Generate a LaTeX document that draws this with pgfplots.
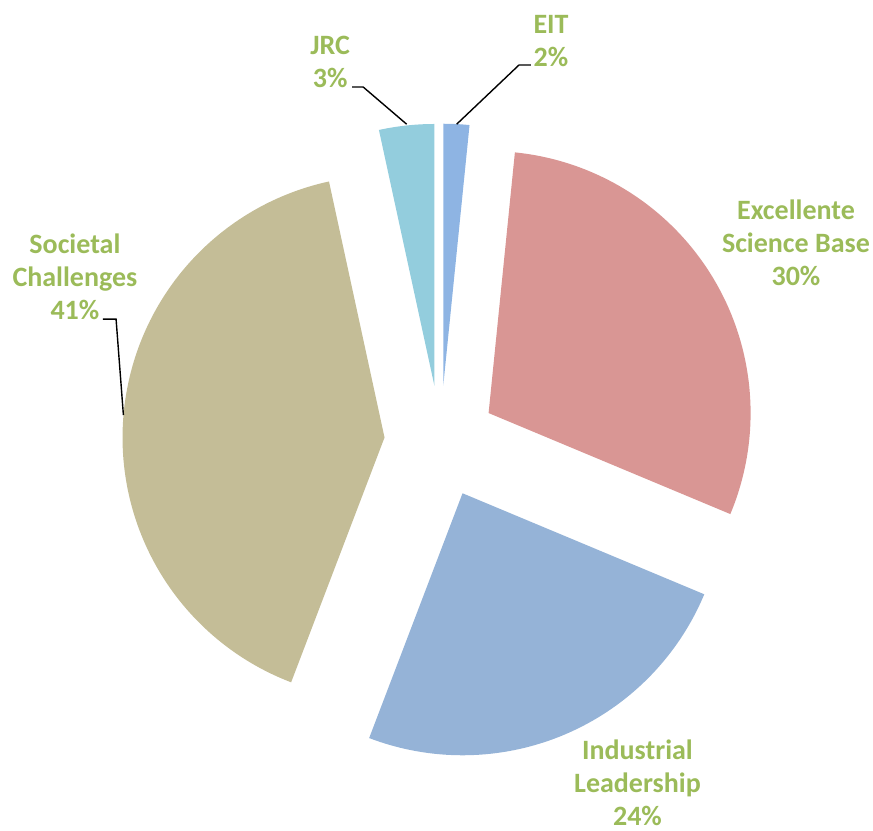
\documentclass[border=0pt]{standalone}
\usepackage{pgfplots}
\pgfplotsset{compat=1.18}
\usepackage{fontspec}
\setmainfont{Carlito}
\definecolor{cEIT}{HTML}{8EB4E3}
\definecolor{cEXC}{HTML}{D99694}
\definecolor{cIND}{HTML}{95B3D7}
\definecolor{cSOC}{HTML}{C4BD97}
\definecolor{cJRC}{HTML}{93CDDD}
\definecolor{lblgreen}{HTML}{9BBB59}
% shares in percent (clockwise from 12 o'clock)
\def\vEIT{1.6}
\def\vEXC{29.7}
\def\vIND{24.5}
\def\vSOC{40.8}
\def\vJRC{3.4}
\def\ex{0.214}% explosion distance
\pgfmathsetmacro\aA{90}
\pgfmathsetmacro\aB{\aA-3.6*\vEIT}
\pgfmathsetmacro\aC{\aB-3.6*\vEXC}
\pgfmathsetmacro\aD{\aC-3.6*\vIND}
\pgfmathsetmacro\aE{\aD-3.6*\vSOC}
\pgfmathsetmacro\aF{\aE-3.6*\vJRC}
\pgfmathsetmacro\xA{\ex*cos((\aA+\aB)/2)}\pgfmathsetmacro\yA{\ex*sin((\aA+\aB)/2)}
\pgfmathsetmacro\xB{\ex*cos((\aB+\aC)/2)}\pgfmathsetmacro\yB{\ex*sin((\aB+\aC)/2)}
\pgfmathsetmacro\xC{\ex*cos((\aC+\aD)/2)}\pgfmathsetmacro\yC{\ex*sin((\aC+\aD)/2)}
\pgfmathsetmacro\xD{\ex*cos((\aD+\aE)/2)}\pgfmathsetmacro\yD{\ex*sin((\aD+\aE)/2)}
\pgfmathsetmacro\xE{\ex*cos((\aE+\aF)/2)}\pgfmathsetmacro\yE{\ex*sin((\aE+\aF)/2)}
\begin{document}
\begin{tikzpicture}[lbl/.style={font=\bfseries\fontsize{14}{16.5}\selectfont, text=lblgreen, align=center, inner sep=0pt}]
\begin{axis}[name=ax,
  x=131pt, y=131pt,
  xmin=-1.681, xmax=1.651, ymin=-1.482, ymax=1.686,
  hide axis, clip=false,
]
\addplot[fill=cEIT, draw=none, domain=\aB:\aA, samples=30] ({\xA+cos(x)},{\yA+sin(x)}) -- (axis cs:\xA,\yA) -- cycle;
\addplot[fill=cEXC, draw=none, domain=\aC:\aB, samples=120] ({\xB+cos(x)},{\yB+sin(x)}) -- (axis cs:\xB,\yB) -- cycle;
\addplot[fill=cIND, draw=none, domain=\aD:\aC, samples=100] ({\xC+cos(x)},{\yC+sin(x)}) -- (axis cs:\xC,\yC) -- cycle;
\addplot[fill=cSOC, draw=none, domain=\aE:\aD, samples=150] ({\xD+cos(x)},{\yD+sin(x)}) -- (axis cs:\xD,\yD) -- cycle;
\addplot[fill=cJRC, draw=none, domain=\aF:\aE, samples=30] ({\xE+cos(x)},{\yE+sin(x)}) -- (axis cs:\xE,\yE) -- cycle;
% leader lines
\addplot[black, line width=0.7pt, no markers] coordinates {(0.345,1.438) (0.300,1.438) (0.062,1.212)};
\addplot[black, line width=0.7pt, no markers] coordinates {(-0.337,1.354) (-0.295,1.354) (-0.129,1.212)};
\addplot[black, line width=0.7pt, no markers] coordinates {(-1.288,0.468) (-1.238,0.468) (-1.210,0.102)};
% labels
\node[lbl] at (axis cs:0.422,1.529) {EIT\\2\%};
\node[lbl] at (axis cs:-0.421,1.451) {JRC\\3\%};
\node[lbl] at (axis cs:1.357,0.760) {Excellente\\Science Base\\30\%};
\node[lbl] at (axis cs:0.752,-1.302) {Industrial\\Leadership\\24\%};
\node[lbl] at (axis cs:-1.395,0.629) {Societal\\Challenges\\41\%};
\end{axis}
\pgfresetboundingbox
\path (ax.south west) rectangle (ax.north east);
\end{tikzpicture}
\end{document}
